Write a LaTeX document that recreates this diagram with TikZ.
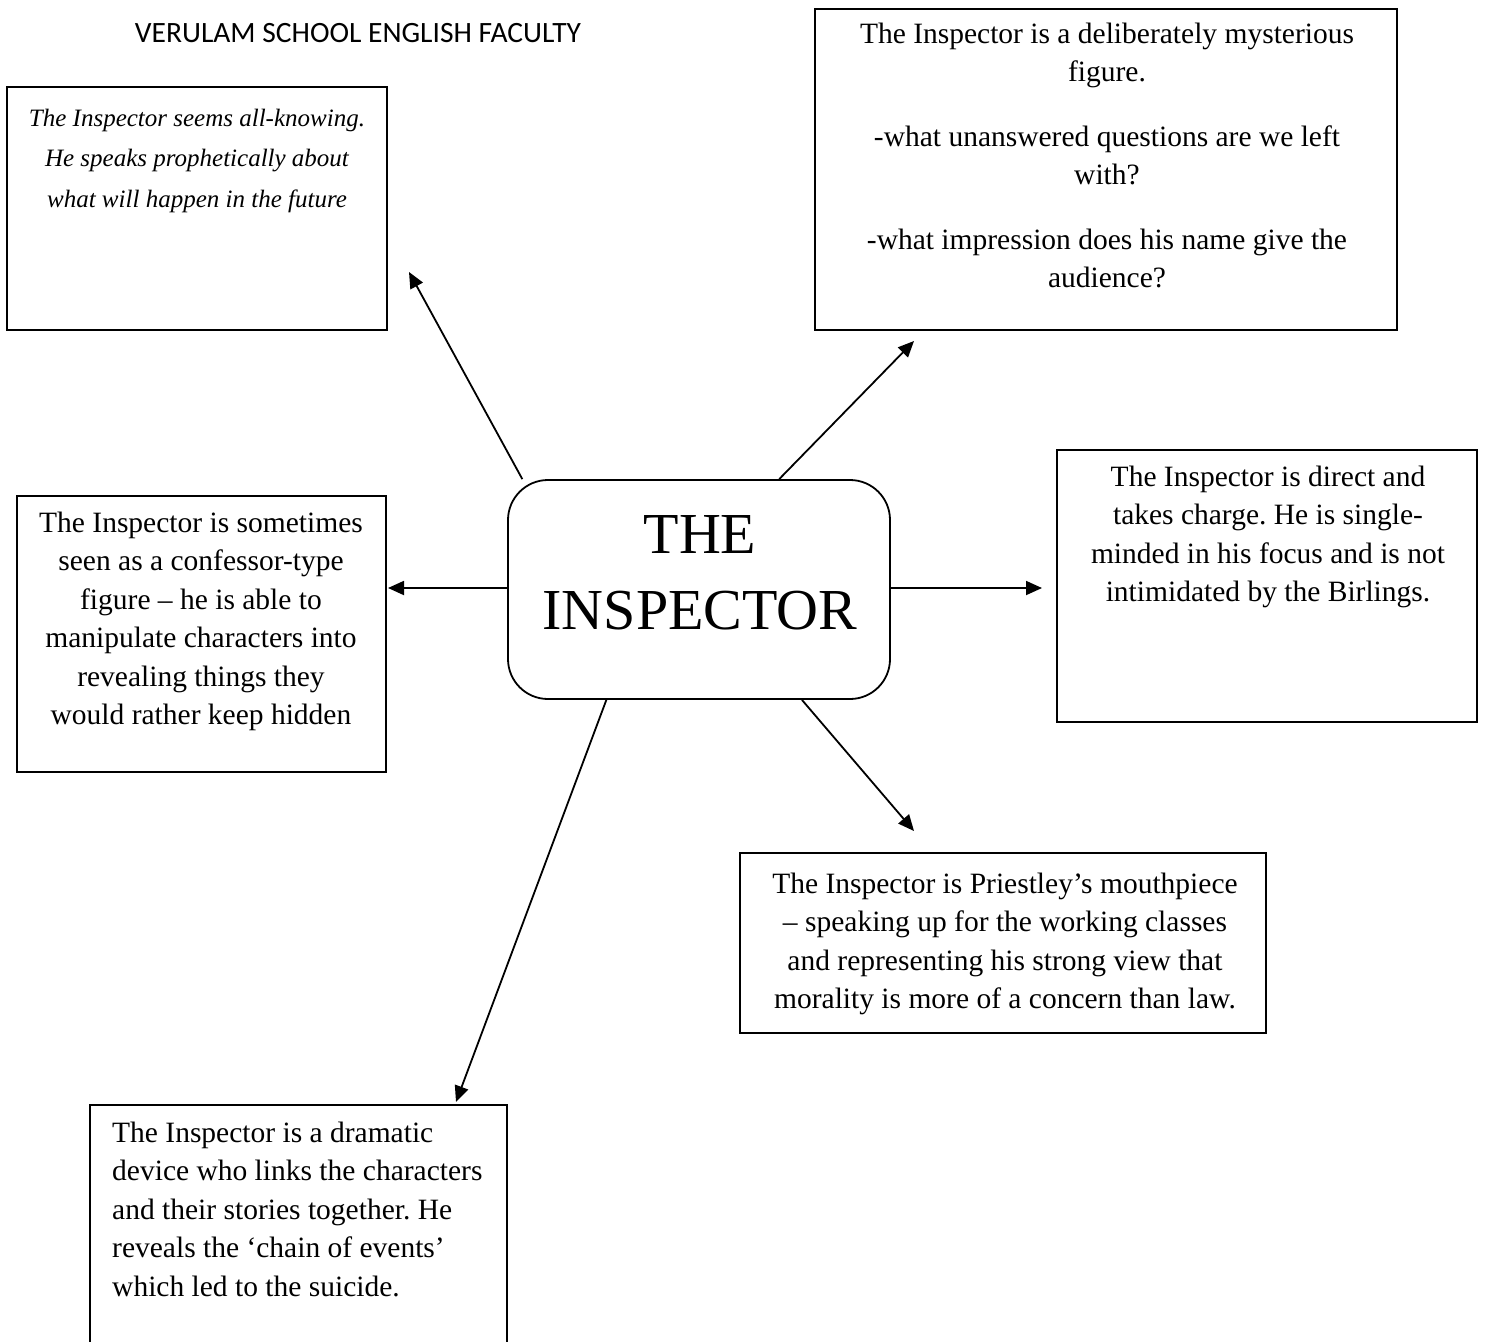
\documentclass[tikz,border=0pt]{standalone}
\usepackage{fontspec}
\setmainfont{Liberation Serif}
\newfontfamily\headfont{Carlito}
\usetikzlibrary{arrows.meta}
\frenchspacing
% invisible rule that fixes the height of a text block's first line
\newcommand\lnstrut{\rule{0pt}{24pt}}
\begin{document}
\begin{tikzpicture}[x=1pt,y=-1pt,
  box/.style={draw, line width=1.8pt, rectangle, inner sep=0pt},
  txt/.style={anchor=north, inner sep=0pt, align=center, font=\fontsize{29.5}{38.5}\selectfont},
  link/.style={line width=1.8pt, -{Triangle[length=16pt,width=14pt]}}]
\path[use as bounding box] (0,0) rectangle (1485,1341);
\clip (0,0) rectangle (1485,1341);

% heading
\node[anchor=base, inner sep=0pt, font=\headfont\fontsize{29.5}{34}\selectfont] (title) at (358,42)
  {VERULAM SCHOOL ENGLISH FACULTY};

% central topic
\node[box, rounded corners=40pt, minimum width=382pt, minimum height=219pt] (hub) at (699,589.5) {};
\node[anchor=north, inner sep=0pt, align=center, font=\fontsize{58}{76}\selectfont] (hubtext) at (700,508)
  {\rule{0pt}{45pt}THE\\INSPECTOR};

% surrounding boxes
\node[box, minimum width=380pt, minimum height=243pt] (bTL) at (197,208.5) {};
\node[box, minimum width=582pt, minimum height=321pt] (bTR) at (1106,169.5) {};
\node[box, minimum width=420pt, minimum height=272pt] (bR) at (1267,586) {};
\node[box, minimum width=369pt, minimum height=276pt] (bL) at (201.5,634) {};
\node[box, minimum width=526pt, minimum height=180pt] (bBR) at (1003,943) {};
\node[box, minimum width=417pt, minimum height=300pt] (bB) at (298.5,1255) {};

% texts of the boxes
\node[txt, font=\itshape\fontsize{25}{40.5}\selectfont] (tTLtext) at (197,102)
  {\lnstrut The Inspector seems all-knowing.\\He speaks prophetically about\\what will happen in the future};
\node[txt] (tTRtext) at (1107,19)
  {\lnstrut The Inspector is a deliberately mysterious\\figure.\\[26pt]-what unanswered questions are we left\\with?\\[26pt]-what impression does his name give the\\audience?};
\node[txt] (tRtext) at (1268,462)
  {\lnstrut The Inspector is direct and\\takes charge. He is single-\\minded in his focus and is not\\intimidated by the Birlings.};
\node[txt] (tLtext) at (201,508)
  {\lnstrut The Inspector is sometimes\\seen as a confessor-type\\figure – he is able to\\manipulate characters into\\revealing things they\\would rather keep hidden};
\node[txt] (tBRtext) at (1005,869)
  {\lnstrut The Inspector is Priestley’s mouthpiece\\– speaking up for the working classes\\and representing his strong view that\\morality is more of a concern than law.};
\node[txt, anchor=north west, align=left] (tBtext) at (112,1118)
  {\lnstrut The Inspector is a dramatic\\device who links the characters\\and their stories together. He\\reveals the ‘chain of events’\\which led to the suicide.};

% arrow tips
\coordinate (pTL) at (409,272);
\coordinate (pTR) at (914,341);
\coordinate (pL) at (388,588);
\coordinate (pR) at (1042,588);
\coordinate (pBR) at (914,831);
\coordinate (pB) at (456,1102);

% connectors
\draw[link] (hub.148) -- (pTL);
\draw[link] (hub.54.4) -- (pTR);
\draw[link] (hub.west |- pL) -- (pL);
\draw[link] (hub.east |- pR) -- (pR);
\draw[link] (hub.313.5) -- (pBR);
\draw[link] (hub.230.2) -- (pB);
\end{tikzpicture}
\end{document}
